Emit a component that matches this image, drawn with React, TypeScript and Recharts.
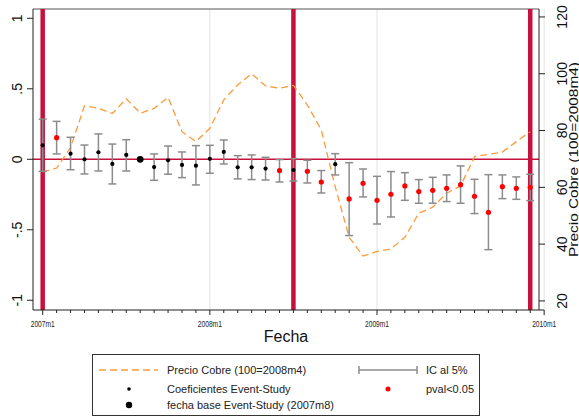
import React from "react";
import {
  ComposedChart,
  Line,
  Scatter,
  ErrorBar,
  XAxis,
  YAxis,
  ReferenceLine,
} from "recharts";

// months 2007m1 .. 2009m12 (index 0..35)
const months: string[] = [];
for (const y of [2007, 2008, 2009]) for (let m = 1; m <= 12; m++) months.push(`${y}m${m}`);

const baseMonth = "2007m8";
const eventMonths = ["2007m1", "2008m7", "2009m12"];

// event-study coefficients
const coef = [
  0.099, 0.153, 0.04, 0.0, 0.05, -0.033, 0.031, 0, -0.055, -0.007, -0.04, -0.045,
  0.003, 0.052, -0.057, -0.057, -0.066, -0.08, -0.076, -0.085, -0.161, -0.035, -0.281, -0.17,
  -0.291, -0.248, -0.189, -0.229, -0.22, -0.206, -0.18, -0.262, -0.376, -0.194, -0.206, -0.199,
];
const ciLow = [
  -0.085, 0.038, -0.074, -0.104, -0.083, -0.175, -0.083, 0, -0.149, -0.106, -0.13, -0.182,
  -0.099, -0.033, -0.139, -0.144, -0.147, -0.161, -0.154, -0.168, -0.239, -0.111, -0.541, -0.267,
  -0.459, -0.409, -0.291, -0.312, -0.312, -0.3, -0.312, -0.385, -0.641, -0.279, -0.284, -0.293,
];
const ciHigh = [
  0.285, 0.269, 0.156, 0.101, 0.18, 0.108, 0.139, 0, 0.038, 0.094, 0.052, 0.097,
  0.099, 0.137, 0.026, 0.031, 0.014, -0.002, 0.005, -0.007, -0.08, 0.04, -0.024, -0.069,
  -0.121, -0.087, -0.095, -0.144, -0.128, -0.111, -0.047, -0.142, -0.109, -0.111, -0.125, -0.106,
];
// pval<0.05
const signif = [
  0, 1, 0, 0, 0, 0, 0, 0, 0, 0, 0, 0,
  0, 0, 0, 0, 0, 1, 0, 1, 1, 0, 1, 1,
  1, 1, 1, 1, 1, 1, 1, 1, 1, 1, 1, 1,
];
// Precio Cobre (100=2008m4)
const precioCobre = [
  65.4, 66.8, 74.0, 88.7, 87.8, 86.0, 91.2, 86.1, 87.8, 91.7, 79.6, 76.1,
  80.8, 90.8, 96.1, 100.0, 95.7, 94.9, 95.9, 89.0, 80.2, 60.2, 42.4, 35.8,
  37.4, 38.3, 42.4, 50.9, 53.0, 57.9, 60.5, 70.8, 71.6, 72.4, 76.1, 79.6,
];

const xTickValues = [0, 12, 24, 36];
const xTickLabels = ["2007m1", "2008m1", "2009m1", "2010m1"];
const leftTicks = [-1, -0.5, 0, 0.5, 1];
const leftTickLabels = ["-1", "-.5", "0", ".5", "1"];
const rightTicks = [20, 40, 60, 80, 100, 120];

const X_DOMAIN: [number, number] = [-0.696, 35.63];
const L_DOMAIN: [number, number] = [-1.069, 1.066];
const R_DOMAIN: [number, number] = [16.8, 122.8];

const RED = "#c8103c";
const FONT = "'Liberation Sans', Arial, sans-serif";

const lineData = months.map((m, i) => ({ t: i, precio: precioCobre[i] }));
const coefPts = months
  .map((m, i) => ({
    t: i,
    month: m,
    coef: coef[i],
    err: [coef[i] - ciLow[i], ciHigh[i] - coef[i]],
    sig: signif[i],
  }))
  .filter((p) => p.month !== baseMonth);
const basePts = months
  .map((m, i) => ({ t: i, month: m, coef: coef[i] }))
  .filter((p) => p.month === baseMonth);

const allTicks = Array.from({ length: 37 }, (_, i) => i);

function XTick(props: any) {
  const { x, y, payload } = props;
  const k = xTickValues.indexOf(payload.value);
  const major = k >= 0;
  return (
    <g>
      <line x1={x} x2={x} y1={y} y2={y + (major ? 5 : 3)} stroke="#222" strokeWidth={1} />
      {major && (
        <text
          x={x}
          y={y + 17}
          textAnchor="middle"
          fontSize={9}
          fontFamily={FONT}
          fill="#222"
          textLength={24}
          lengthAdjust="spacingAndGlyphs"
        >
          {xTickLabels[k]}
        </text>
      )}
    </g>
  );
}

// rotated label, baseline at bx (glyphs extend to the left)
function VText({ bx, y, size, children, len }: any) {
  return (
    <text
      x={bx}
      y={y}
      transform={`rotate(-90, ${bx}, ${y})`}
      textAnchor="middle"
      fontSize={size}
      fontFamily={FONT}
      fill="#111"
      {...(len ? { textLength: len, lengthAdjust: "spacingAndGlyphs" } : {})}
    >
      {children}
    </text>
  );
}

function LeftTick(props: any) {
  const { x, y, payload } = props;
  const k = leftTicks.indexOf(payload.value);
  return (
    <VText bx={x - 3} y={y} size={14}>
      {leftTickLabels[k]}
    </VText>
  );
}

function RightTick(props: any) {
  const { x, y, payload } = props;
  return (
    <VText bx={x + 20.5} y={y} size={14}>
      {payload.value}
    </VText>
  );
}

function RightTitle(props: any) {
  const vb = props.viewBox || {};
  return (
    <VText bx={vb.x + vb.width - 1.5} y={vb.y + vb.height / 2} size={13.5} len={195}>
      Precio Cobre (100=2008m4)
    </VText>
  );
}

function Dot(props: any) {
  const { cx, cy, payload } = props;
  const sig = payload.sig === 1;
  return <circle cx={cx} cy={cy} r={sig ? 2.6 : 2.1} fill={sig ? "#ff0000" : "#000"} />;
}

function BaseDot(props: any) {
  const { cx, cy } = props;
  return <circle cx={cx} cy={cy} r={3.4} fill="#000" />;
}

function LegendBox() {
  const txt = { fontSize: 11, fontFamily: FONT, fill: "#222" };
  return (
    <div
      style={{
        position: "absolute",
        left: 92,
        top: 354,
        width: 388,
        height: 62,
        border: "1px solid #333",
        boxSizing: "border-box",
        background: "#fff",
      }}
    >
      <svg width={386} height={60} style={{ position: "absolute", left: 0, top: 0 }}>
        <line x1={6} x2={65} y1={15} y2={15} stroke="#ff9a3a" strokeWidth={1.3} strokeDasharray="7 4" />
        <text x={74} y={19} {...txt}>Precio Cobre (100=2008m4)</text>
        <line x1={266} x2={324} y1={15} y2={15} stroke="#8c8c8c" strokeWidth={1.5} />
        <line x1={266} x2={266} y1={11} y2={19} stroke="#8c8c8c" strokeWidth={1.5} />
        <line x1={324} x2={324} y1={11} y2={19} stroke="#8c8c8c" strokeWidth={1.5} />
        <text x={333} y={19} {...txt}>IC al 5%</text>
        <circle cx={36} cy={34} r={1.8} fill="#000" />
        <text x={74} y={38} {...txt}>Coeficientes Event-Study</text>
        <circle cx={295} cy={34} r={2.5} fill="#ff0000" />
        <text x={333} y={38} {...txt}>pval&lt;0.05</text>
        <circle cx={36} cy={50} r={3.2} fill="#000" />
        <text x={74} y={54} {...txt}>{`fecha base Event-Study (${baseMonth})`}</text>
      </svg>
    </div>
  );
}

export default function App() {
  return (
    <div style={{ position: "absolute", left: 0, top: 0, width: 579, height: 418, background: "#fff" }}>
      <ComposedChart width={579} height={418} data={lineData} margin={{ top: 9, right: 0, bottom: 0, left: 0 }}>
        <XAxis
          dataKey="t"
          type="number"
          domain={X_DOMAIN}
          allowDataOverflow
          ticks={allTicks}
          interval={0}
          tick={<XTick />}
          tickLine={false}
          tickSize={0}
          tickMargin={0}
          height={108}
          axisLine={{ stroke: "#222" }}
          label={{ value: "Fecha", position: "insideTop", offset: 21, fontSize: 16, fill: "#111", fontFamily: FONT }}
        />
        <YAxis
          yAxisId="left"
          orientation="left"
          width={33}
          domain={L_DOMAIN}
          allowDataOverflow
          ticks={leftTicks}
          interval={0}
          tick={<LeftTick />}
          tickSize={6}
          tickMargin={2}
          tickLine={{ stroke: "#222" }}
          axisLine={{ stroke: "#222" }}
        />
        <YAxis
          yAxisId="right"
          orientation="right"
          width={40}
          domain={R_DOMAIN}
          allowDataOverflow
          ticks={rightTicks}
          interval={0}
          tick={<RightTick />}
          tickSize={6}
          tickMargin={2}
          tickLine={{ stroke: "#222" }}
          axisLine={{ stroke: "#222" }}
          label={<RightTitle />}
        />

        {xTickValues.slice(1).map((v) => (
          <ReferenceLine key={`g${v}`} yAxisId="left" x={v} stroke="#e3e3e3" strokeWidth={1} ifOverflow="visible" />
        ))}
        <ReferenceLine yAxisId="left" y={L_DOMAIN[1]} stroke="#555" strokeWidth={1} ifOverflow="visible" />
        <ReferenceLine
          yAxisId="left"
          segment={[
            { x: X_DOMAIN[1], y: L_DOMAIN[0] },
            { x: 36, y: L_DOMAIN[0] },
          ]}
          stroke="#222"
          ifOverflow="visible"
        />
        <ReferenceLine yAxisId="left" y={0} stroke={RED} strokeWidth={1.4} />
        {eventMonths.map((m) => (
          <ReferenceLine
            key={m}
            yAxisId="left"
            x={months.indexOf(m)}
            stroke={RED}
            strokeWidth={4.5}
            ifOverflow="visible"
          />
        ))}

        <Line
          yAxisId="right"
          type="linear"
          dataKey="precio"
          stroke="#ff9a3a"
          strokeWidth={1.3}
          strokeDasharray="7 4"
          dot={false}
          activeDot={false}
          isAnimationActive={false}
        />
        <Scatter yAxisId="left" data={coefPts} dataKey="coef" shape={<Dot />} isAnimationActive={false}>
          <ErrorBar dataKey="err" direction="y" width={4} stroke="#8c8c8c" strokeWidth={1.5} />
        </Scatter>
        <Scatter yAxisId="left" data={basePts} dataKey="coef" shape={<BaseDot />} isAnimationActive={false} />
      </ComposedChart>
      <LegendBox />
    </div>
  );
}
